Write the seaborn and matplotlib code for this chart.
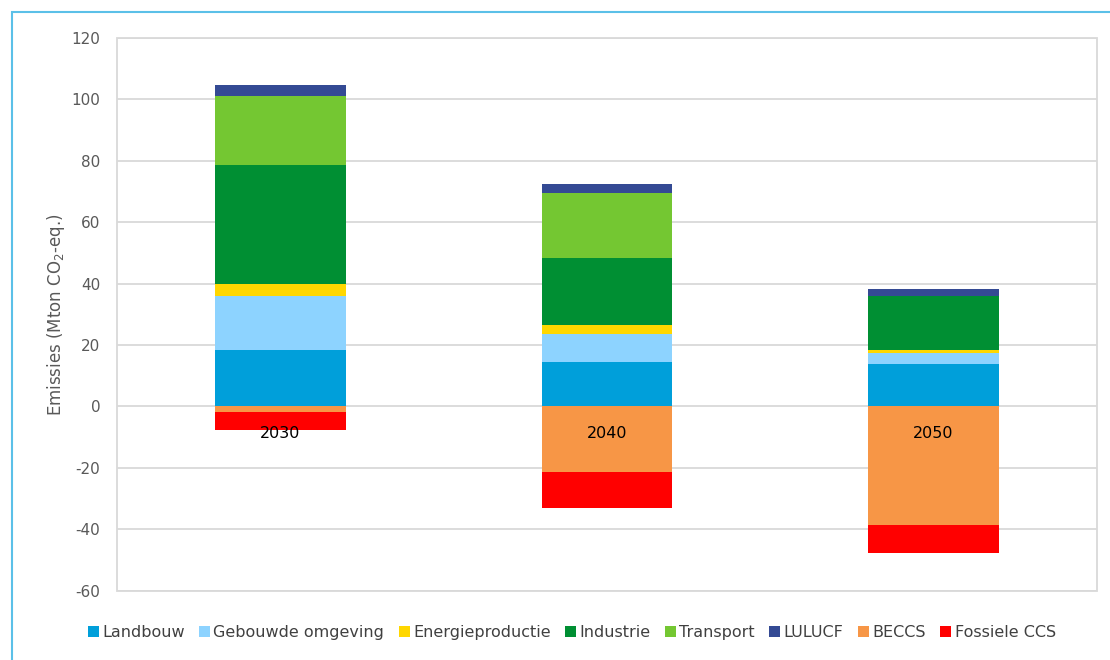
import numpy as np
import pandas as pd
import matplotlib.pyplot as plt
import seaborn as sns
from matplotlib.patches import Rectangle

years = ['2030', '2040', '2050']
series = ['Landbouw', 'Gebouwde omgeving', 'Energieproductie', 'Industrie',
          'Transport', 'LULUCF', 'BECCS', 'Fossiele CCS']
landbouw = [18.3, 14.5, 13.7]
gebouwde = [17.8, 9.2, 3.6]
energie = [3.6, 2.9, 1.0]
industrie = [39.0, 21.8, 17.8]
transport = [22.5, 21.0, 0.0]
lulucf = [3.6, 3.0, 2.0]
beccs = [-1.9, -21.4, -38.5]
fossiel = [-5.7, -11.6, -9.3]
colors = ['#009FDA', '#8DD3FF', '#FFD700', '#008F33', '#74C732', '#344A94',
          '#F79646', '#FF0000']
yticks = [-60, -40, -20, 0, 20, 40, 60, 80, 100, 120]

values = [landbouw, gebouwde, energie, industrie, transport, lulucf, beccs, fossiel]

sns.set_style('white')
plt.rcParams['font.family'] = ['DejaVu Sans']
plt.rcParams['axes.unicode_minus'] = False

fig = plt.figure(figsize=(11.1, 6.6), dpi=100)
ax = fig.add_axes([0.1054, 0.1053, 0.8826, 0.8371])

pos_base = np.zeros(3)
neg_base = np.zeros(3)
for name, vals, col in zip(series, values, colors):
    vals = np.array(vals)
    base = np.where(vals >= 0, pos_base, neg_base)
    df = pd.DataFrame({'year': years, 'value': vals})
    sns.barplot(data=df, x='year', y='value', order=years, bottom=base,
                color=col, width=0.4, errorbar=None, label=name,
                linewidth=0, saturation=1, ax=ax)
    pos_base = pos_base + np.clip(vals, 0, None)
    neg_base = neg_base + np.clip(vals, None, 0)

ax.set_ylim(-60, 120)
ax.set_yticks(yticks)
ax.set_xlim(-0.5, 2.5)
ax.grid(axis='y', color='#D9D9D9', linewidth=1.3)
ax.set_axisbelow(True)
ax.xaxis.set_zorder(5)  # year labels drawn over the bars
ax.set_xlabel('')
ax.set_ylabel('Emissies (Mton CO$_2$-eq.)', fontsize=12, color='#595959', labelpad=3)
ax.tick_params(axis='y', length=0, labelsize=11, labelcolor='#595959', pad=12)
ax.tick_params(axis='x', length=0, labelsize=11.5, labelcolor='black', pad=14)

# category labels sit on the zero line, like the original
ax.spines['bottom'].set_position(('data', 0))
for s in ax.spines.values():
    s.set_visible(False)
ax.add_patch(Rectangle((0, 0), 1, 1, transform=ax.transAxes, fill=False,
                       edgecolor='#D9D9D9', linewidth=1.3, clip_on=False))

ax.legend(loc='center', bbox_to_anchor=(0.515, 0.041), bbox_transform=fig.transFigure,
          ncol=8, frameon=False, fontsize=11.5, handlelength=0.7, handleheight=0.7,
          handletextpad=0.2, columnspacing=0.9, labelcolor='#404040')

# light blue frame round the chart
fig.add_artist(Rectangle((12 / 1110, -0.1), 1.2, 1.1 - 12 / 660, transform=fig.transFigure,
                         fill=False, edgecolor='#5BC0E8', linewidth=1.5))

fig.savefig('out.png', dpi=100)
